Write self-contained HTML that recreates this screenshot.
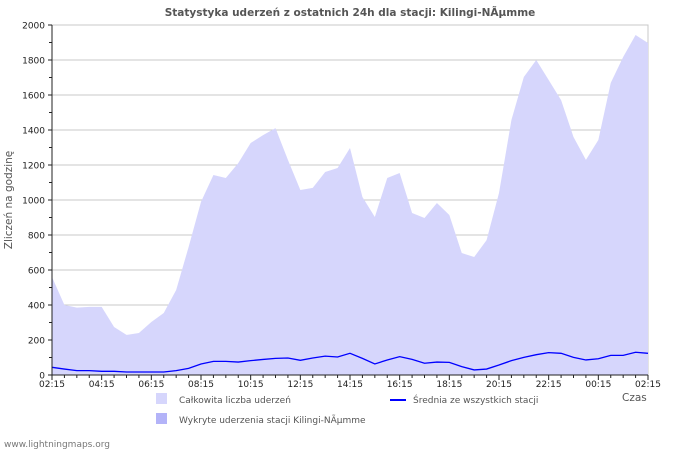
<!DOCTYPE html>
<html><head><meta charset="utf-8"><style>
body{margin:0;background:#fff}
svg text{font-family:"DejaVu Sans","Liberation Sans",sans-serif}
</style></head><body>
<svg id="c" width="700" height="450" xmlns="http://www.w3.org/2000/svg">
<text x="350" y="16" text-anchor="middle" font-size="10.5" font-weight="bold" fill="#555">Statystyka uderzeń z ostatnich 24h dla stacji: Kilingi-NÃµmme</text>
<text x="12" y="200" transform="rotate(-90 12 200)" text-anchor="middle" font-size="10.5" fill="#555">Zliczeń na godzinę</text>
<g id="grid"></g><g id="marks"></g><g id="axes"></g>
<rect x="156" y="393" width="11" height="11" fill="#d6d6fc"/>
<text x="179" y="403" font-size="9" fill="#555">Całkowita liczba uderzeń</text>
<rect x="156" y="413" width="11" height="11" fill="#b3b3f8"/>
<text x="179" y="423" font-size="9" fill="#555">Wykryte uderzenia stacji Kilingi-NÃµmme</text>
<line x1="390" y1="400" x2="406" y2="400" stroke="#0000ff" stroke-width="2"/>
<text x="413" y="403" font-size="9" fill="#555">Średnia ze wszystkich stacji</text>
<text x="622" y="401" font-size="10.5" fill="#555">Czas</text>
<text x="4" y="447" font-size="9" fill="#777">www.lightningmaps.org</text>
</svg>
<script>
const xLabels=["02:15","04:15","06:15","08:15","10:15","12:15","14:15","16:15","18:15","20:15","22:15","00:15","02:15"];
const yTicks=[0,200,400,600,800,1000,1200,1400,1600,1800,2000];
const total=[560,400,385,389,389,274,229,240,303,354,486,731,989,1143,1126,1211,1326,1371,1411,1229,1057,1069,1160,1183,1297,1017,903,1126,1154,926,897,983,914,697,674,771,1040,1457,1703,1800,1686,1571,1360,1229,1343,1669,1817,1943,1897];
const average=[44,34,25,25,21,21,17,17,17,17,25,38,63,78,78,74,82,89,95,97,84,97,108,103,124,95,63,86,105,89,67,74,72,48,29,34,57,82,101,116,128,124,101,86,93,112,112,130,124];
const NS="http://www.w3.org/2000/svg";
const X0=52,X1=648,Y0=375,Y1=25,YMAX=2000;
const xs=i=>X0+(X1-X0)*i/(total.length-1);
const ys=v=>Y0-(Y0-Y1)*v/YMAX;
function mk(tag,attrs,parent){const e=document.createElementNS(NS,tag);for(const k in attrs)e.setAttribute(k,attrs[k]);document.getElementById(parent).appendChild(e);return e;}
yTicks.forEach(v=>{
 if(v>0){const g=mk('line',{x1:X0,x2:X1,y1:ys(v),y2:ys(v),stroke:'#c8c8c8','stroke-width':1},'grid');
 
 }
 const t=mk('text',{x:45,y:ys(v)+3.5,'text-anchor':'end','font-size':9,fill:'#222'},'axes');t.textContent=v;
 
 
 const tk=mk('line',{x1:X0-4,x2:X0,y1:ys(v),y2:ys(v),stroke:'#222'},'axes');
 
 
 if(v<YMAX){const m=mk('line',{x1:X0-3,x2:X0,y1:ys(v+100),y2:ys(v+100),stroke:'#222'},'axes');
 
 }
});
const fr=mk('rect',{x:X0,y:Y1,width:X1-X0,height:Y0-Y1,fill:'none',stroke:'#c8c8c8'},'grid');


let d='M'+xs(0)+','+Y0;total.forEach((v,i)=>d+=' L'+xs(i)+','+ys(v));d+=' L'+xs(total.length-1)+','+Y0+'Z';
const area=mk('path',{d:d,fill:'#d6d6fc'},'marks');


const pts=average.map((v,i)=>xs(i)+','+ys(v)).join(' ');
const ln=mk('polyline',{points:pts,fill:'none',stroke:'#0000ff','stroke-width':1.3},'marks');


const ax=mk('line',{x1:X0,x2:X1,y1:Y0,y2:Y0,stroke:'#222'},'axes');


const ay=mk('line',{x1:X0,x2:X0,y1:Y0,y2:Y1,stroke:'#222'},'axes');


const nMinor=(xLabels.length-1)*4;
for(let j=0;j<=nMinor;j++){const x=X0+(X1-X0)*j/nMinor;const major=j%4===0;
 const t=mk('line',{x1:x,x2:x,y1:Y0,y2:Y0+(major?5:3),stroke:'#222'},'axes');
 
 }
xLabels.forEach((l,i)=>{const x=X0+(X1-X0)*i/(xLabels.length-1);
 const t=mk('text',{x:x,y:387,'text-anchor':'middle','font-size':9,fill:'#222'},'axes');t.textContent=l;
 
 });
</script>
</body></html>
